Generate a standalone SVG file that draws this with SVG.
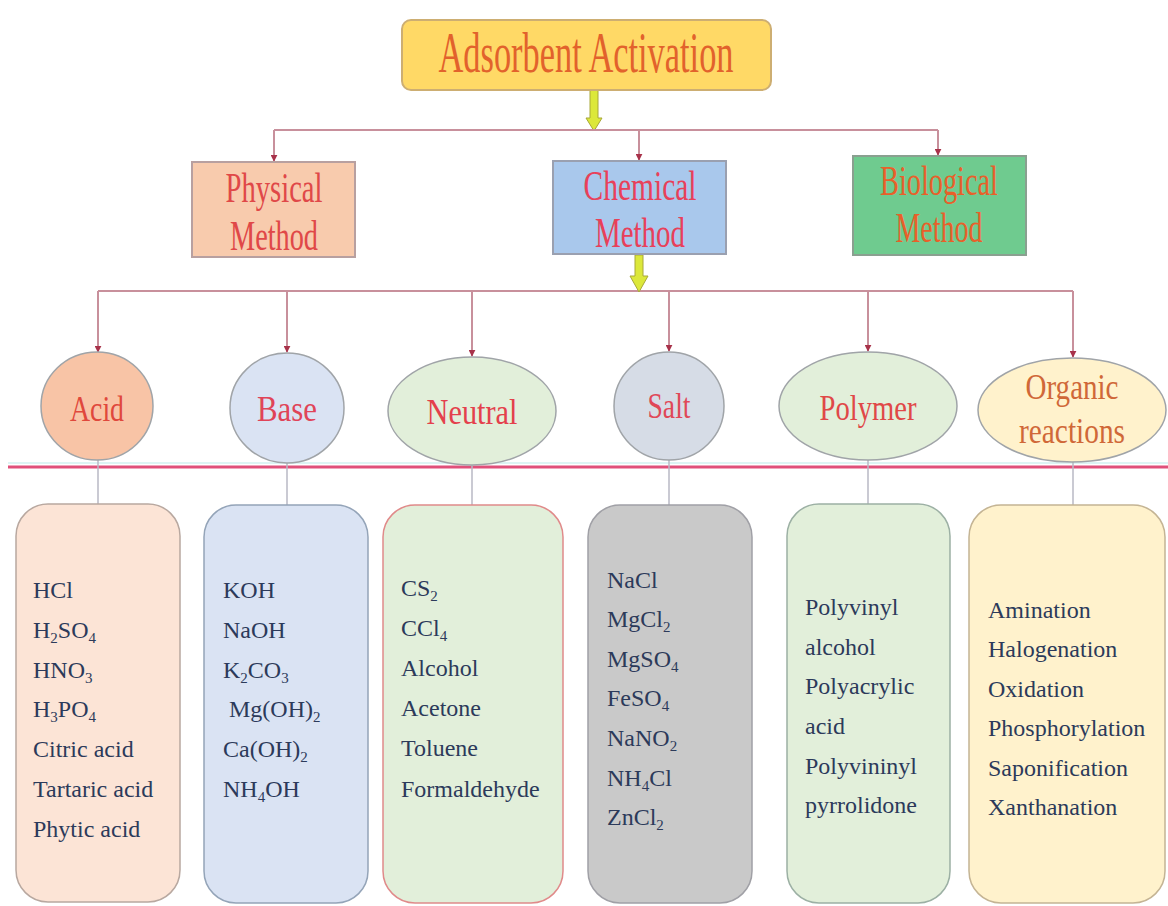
<svg xmlns="http://www.w3.org/2000/svg" width="1168" height="906" viewBox="0 0 1168 906">
<defs>
<style>
.lbl{font-family:"Liberation Serif","Times New Roman",serif;text-anchor:middle}
.lst{font-family:"Liberation Serif","Times New Roman",serif;font-size:24px;fill:#2C3A5A}
.sb{font-size:15px}
.conn{fill:none;stroke:#C8909C;stroke-width:2}
.thin{fill:none;stroke:#B8B8C4;stroke-width:1.5}
.yarrow{fill:#DCE83A;stroke:#A8A838;stroke-width:1}
.ell{stroke:#A0A4A8;stroke-width:1.5}
.card{stroke-width:1.5}
</style>
<marker id="ah" viewBox="0 0 10 10" refX="9" refY="5" markerWidth="7" markerHeight="7" orient="auto" markerUnits="userSpaceOnUse">
<path d="M0,0 L10,5 L0,10 z" fill="#A8324A"/>
</marker>
</defs>
<rect width="1168" height="906" fill="#FFFFFF"/>

<g id="connectors">
<path class="yarrow" d="M590,90 L598,90 L598,118 L602,118 L594,131 L586,118 L590,118 z"/>
<line class="conn" x1="274" y1="130" x2="938" y2="130"/>
<line class="conn" x1="274" y1="130" x2="274" y2="161" marker-end="url(#ah)"/>
<line class="conn" x1="639" y1="130" x2="639" y2="160" marker-end="url(#ah)"/>
<line class="conn" x1="938" y1="130" x2="938" y2="155" marker-end="url(#ah)"/>
<line class="conn" x1="98" y1="291" x2="1073" y2="291"/>
<path class="yarrow" d="M635,255 L643,255 L643,276 L648,276 L639,292 L630,276 L635,276 z"/>
<line class="conn" x1="98" y1="291" x2="98" y2="352" marker-end="url(#ah)"/>
<line class="conn" x1="287" y1="291" x2="287" y2="352" marker-end="url(#ah)"/>
<line class="conn" x1="472" y1="291" x2="472" y2="356" marker-end="url(#ah)"/>
<line class="conn" x1="669" y1="291" x2="669" y2="351" marker-end="url(#ah)"/>
<line class="conn" x1="868" y1="291" x2="868" y2="351" marker-end="url(#ah)"/>
<line class="conn" x1="1073" y1="291" x2="1073" y2="357" marker-end="url(#ah)"/>
<line x1="8" y1="467" x2="1168" y2="467" stroke="#E0507A" stroke-width="3"/>
<line x1="8" y1="463" x2="1168" y2="463" stroke="#DDF4F4" stroke-width="2"/>
<line class="thin" x1="98" y1="460" x2="98" y2="504"/>
<line class="thin" x1="287" y1="463" x2="287" y2="505"/>
<line class="thin" x1="472" y1="465" x2="472" y2="505"/>
<line class="thin" x1="669" y1="460" x2="669" y2="505"/>
<line class="thin" x1="868" y1="460" x2="868" y2="504"/>
<line class="thin" x1="1073" y1="462" x2="1073" y2="505"/>
</g>

<g id="adsorbent-activation">
<rect x="402" y="20" width="369" height="70" rx="9" fill="#FFD966" stroke="#CDAE72" stroke-width="2"/>
<text class="lbl" x="586" y="72" font-size="56" fill="#E2622C" textLength="295" lengthAdjust="spacingAndGlyphs">Adsorbent Activation</text>
</g>

<g id="physical-method">
<rect x="192" y="162" width="163" height="95" fill="#F8CBAD" stroke="#B8A0A0" stroke-width="2"/>
<text class="lbl" x="274" y="202" font-size="42" fill="#E04848" textLength="97" lengthAdjust="spacingAndGlyphs">Physical</text>
<text class="lbl" x="274" y="250" font-size="42" fill="#E04848" textLength="88" lengthAdjust="spacingAndGlyphs">Method</text>
</g>

<g id="chemical-method">
<rect x="553" y="161" width="173" height="93" fill="#A9C8EC" stroke="#9AA0B0" stroke-width="2"/>
<text class="lbl" x="640" y="200" font-size="42" fill="#E8405A" textLength="113" lengthAdjust="spacingAndGlyphs">Chemical</text>
<text class="lbl" x="640" y="247" font-size="42" fill="#E8405A" textLength="90" lengthAdjust="spacingAndGlyphs">Method</text>
</g>

<g id="biological-method">
<rect x="853" y="156" width="173" height="99" fill="#6FCB8F" stroke="#8AA090" stroke-width="2"/>
<text class="lbl" x="939" y="195" font-size="42" fill="#E8602A" textLength="118" lengthAdjust="spacingAndGlyphs">Biological</text>
<text class="lbl" x="939" y="242" font-size="42" fill="#E8602A" textLength="87" lengthAdjust="spacingAndGlyphs">Method</text>
</g>

<g id="acid">
<ellipse class="ell" cx="97" cy="406" rx="56" ry="54" fill="#F8C4A6"/>
<text class="lbl" x="97" y="421" font-size="36" fill="#E0483C" textLength="54" lengthAdjust="spacingAndGlyphs">Acid</text>
</g>
<g id="base">
<ellipse class="ell" cx="287" cy="408" rx="57" ry="55" fill="#DAE3F3"/>
<text class="lbl" x="287" y="421" font-size="36" fill="#E04458" textLength="60" lengthAdjust="spacingAndGlyphs">Base</text>
</g>
<g id="neutral">
<ellipse class="ell" cx="472" cy="411" rx="84" ry="54" fill="#E2EFDA"/>
<text class="lbl" x="472" y="424" font-size="36" fill="#E4404C" textLength="91" lengthAdjust="spacingAndGlyphs">Neutral</text>
</g>
<g id="salt">
<ellipse class="ell" cx="669" cy="406" rx="55" ry="54" fill="#D6DCE6"/>
<text class="lbl" x="669" y="418" font-size="36" fill="#E04858" textLength="43" lengthAdjust="spacingAndGlyphs">Salt</text>
</g>
<g id="polymer">
<ellipse class="ell" cx="868" cy="406" rx="89" ry="54" fill="#E2EFDA"/>
<text class="lbl" x="868" y="420" font-size="36" fill="#E04848" textLength="97" lengthAdjust="spacingAndGlyphs">Polymer</text>
</g>
<g id="organic-reactions">
<ellipse class="ell" cx="1072" cy="410" rx="94" ry="52" fill="#FFF2CC"/>
<text class="lbl" x="1072" y="399" font-size="36" fill="#D06838" textLength="93" lengthAdjust="spacingAndGlyphs">Organic</text>
<text class="lbl" x="1072" y="443" font-size="36" fill="#D06838" textLength="106" lengthAdjust="spacingAndGlyphs">reactions</text>
</g>

<g id="acid-list">
<rect class="card" x="16" y="504" width="164" height="398" rx="32" fill="#FCE4D6" stroke="#B8A8A0"/>
<text class="lst" x="33" y="598">HCl</text>
<text class="lst" x="33" y="638">H<tspan class="sb" dy="5">2</tspan><tspan dy="-5">SO</tspan><tspan class="sb" dy="5">4</tspan></text>
<text class="lst" x="33" y="678">HNO<tspan class="sb" dy="5">3</tspan></text>
<text class="lst" x="33" y="717">H<tspan class="sb" dy="5">3</tspan><tspan dy="-5">PO</tspan><tspan class="sb" dy="5">4</tspan></text>
<text class="lst" x="33" y="757">Citric acid</text>
<text class="lst" x="33" y="797">Tartaric acid</text>
<text class="lst" x="33" y="837">Phytic acid</text>
</g>

<g id="base-list">
<rect class="card" x="204" y="505" width="164" height="398" rx="32" fill="#DAE3F3" stroke="#94A4B8"/>
<text class="lst" x="223" y="598">KOH</text>
<text class="lst" x="223" y="638">NaOH</text>
<text class="lst" x="223" y="678">K<tspan class="sb" dy="5">2</tspan><tspan dy="-5">CO</tspan><tspan class="sb" dy="5">3</tspan></text>
<text class="lst" x="229" y="717">Mg(OH)<tspan class="sb" dy="5">2</tspan></text>
<text class="lst" x="223" y="757">Ca(OH)<tspan class="sb" dy="5">2</tspan></text>
<text class="lst" x="223" y="797">NH<tspan class="sb" dy="5">4</tspan><tspan dy="-5">OH</tspan></text>
</g>

<g id="neutral-list">
<rect class="card" x="383" y="505" width="180" height="398" rx="32" fill="#E2EFDA" stroke="#E08A8A"/>
<text class="lst" x="401" y="596">CS<tspan class="sb" dy="5">2</tspan></text>
<text class="lst" x="401" y="636">CCl<tspan class="sb" dy="5">4</tspan></text>
<text class="lst" x="401" y="676">Alcohol</text>
<text class="lst" x="401" y="716">Acetone</text>
<text class="lst" x="401" y="756">Toluene</text>
<text class="lst" x="401" y="797">Formaldehyde</text>
</g>

<g id="salt-list">
<rect class="card" x="588" y="505" width="164" height="398" rx="32" fill="#C9C9C9" stroke="#A0A0A6"/>
<text class="lst" x="607" y="588">NaCl</text>
<text class="lst" x="607" y="627">MgCl<tspan class="sb" dy="5">2</tspan></text>
<text class="lst" x="607" y="667">MgSO<tspan class="sb" dy="5">4</tspan></text>
<text class="lst" x="607" y="706">FeSO<tspan class="sb" dy="5">4</tspan></text>
<text class="lst" x="607" y="746">NaNO<tspan class="sb" dy="5">2</tspan></text>
<text class="lst" x="607" y="786">NH<tspan class="sb" dy="5">4</tspan><tspan dy="-5">Cl</tspan></text>
<text class="lst" x="607" y="825">ZnCl<tspan class="sb" dy="5">2</tspan></text>
</g>

<g id="polymer-list">
<rect class="card" x="787" y="504" width="163" height="399" rx="32" fill="#E2EFDA" stroke="#9CB0A4"/>
<text class="lst" x="805" y="615">Polyvinyl</text>
<text class="lst" x="805" y="655">alcohol</text>
<text class="lst" x="805" y="694">Polyacrylic</text>
<text class="lst" x="805" y="734">acid</text>
<text class="lst" x="805" y="774">Polyvininyl</text>
<text class="lst" x="805" y="813">pyrrolidone</text>
</g>

<g id="organic-list">
<rect class="card" x="969" y="505" width="196" height="398" rx="32" fill="#FFF2CC" stroke="#C4B494"/>
<text class="lst" x="988" y="618">Amination</text>
<text class="lst" x="988" y="657">Halogenation</text>
<text class="lst" x="988" y="697">Oxidation</text>
<text class="lst" x="988" y="736">Phosphorylation</text>
<text class="lst" x="988" y="776">Saponification</text>
<text class="lst" x="988" y="815">Xanthanation</text>
</g>
</svg>
